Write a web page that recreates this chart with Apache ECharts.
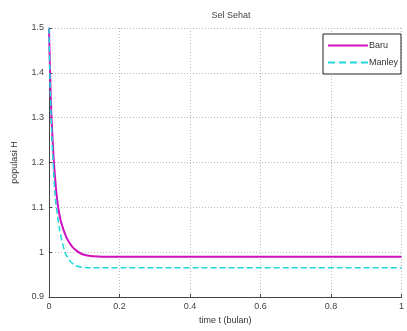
<!DOCTYPE html>
<html>
<head>
<meta charset="utf-8">
<script src="https://cdn.jsdelivr.net/npm/echarts@6/dist/echarts.min.js"></script>
<style>
  html, body { margin: 0; padding: 0; background: #fff; }
  #chart { width: 407px; height: 331px; }
</style>
</head>
<body>
<div id="chart"></div>
<script>
// values
var baruT = [0, 0.003, 0.007, 0.014, 0.02, 0.026, 0.035, 0.05, 0.065, 0.077, 0.09, 0.105, 0.125, 0.15, 1.0];
var baruH = [1.5, 1.4, 1.3, 1.2, 1.14, 1.1, 1.065, 1.032, 1.013, 1.004, 0.997, 0.993, 0.991, 0.99, 0.99];
var manleyT = [0, 0.003, 0.007, 0.013, 0.017, 0.021, 0.03, 0.045, 0.06, 0.075, 0.095, 0.12, 1.0];
var manleyH = [1.5, 1.38, 1.28, 1.18, 1.13, 1.1, 1.05, 1.0, 0.98, 0.97, 0.966, 0.965, 0.965];

function pairs(t, h) {
    var out = [];
    for (var i = 0; i < t.length; i++) out.push([t[i], h[i]]);
    return out;
}

var chart = echarts.init(document.getElementById('chart'));
var font = 'Liberation Sans';
var solidIcon = 'path://M0,0h40v2h-40z';
var dashIcon = 'path://M0,0h7v2h-7z M11,0h7v2h-7z M22,0h7v2h-7z M33,0h7v2h-7z';
var option = {
    animation: false,
    title: {
        text: 'Sel Sehat',
        left: 226, top: 6, textAlign: 'center',
        textStyle: { fontSize: 9, fontWeight: 'normal', color: '#444', fontFamily: font }
    },
    legend: {
        orient: 'vertical',
        right: 6, top: 34,
        backgroundColor: '#fff',
        borderColor: '#222', borderWidth: 1, borderRadius: 0,
        padding: [7, 3, 7, 5],
        itemGap: 8, itemWidth: 40, itemHeight: 2,
        textStyle: { fontSize: 9, color: '#333', fontFamily: font, padding: [0, 0, 0, -4] },
        data: [
            { name: 'Baru', icon: solidIcon },
            { name: 'Manley', icon: dashIcon }
        ]
    },
    grid: { left: 49, right: 0, top: 28, bottom: 34, containLabel: false },
    xAxis: {
        type: 'value', min: 0, max: 1, interval: 0.2,
        name: 'time t (bulan)', nameLocation: 'middle', nameGap: 17,
        nameTextStyle: { fontSize: 9, color: '#333', fontFamily: font },
        axisLine: { lineStyle: { color: '#444' } },
        axisTick: { inside: true, length: 3, lineStyle: { color: '#444' } },
        axisLabel: { fontSize: 9, color: '#444', fontFamily: font, margin: 5 },
        splitLine: { show: true, lineStyle: { color: '#bbb', type: [1, 2] } }
    },
    yAxis: {
        type: 'value', min: 0.9, max: 1.5, interval: 0.1,
        name: 'populasi H', nameLocation: 'middle', nameGap: 30,
        nameTextStyle: { fontSize: 9, color: '#333', fontFamily: font },
        axisLine: { show: true, lineStyle: { color: '#444' } },
        axisTick: { show: true, inside: true, length: 3, lineStyle: { color: '#444' } },
        axisLabel: { fontSize: 9, color: '#444', fontFamily: font, margin: 5 },
        splitLine: { show: true, lineStyle: { color: '#bbb', type: [1, 2] } }
    },
    series: [
        {
            name: 'Baru', type: 'line', symbol: 'none', smooth: 0.2,
            data: pairs(baruT, baruH),
            itemStyle: { color: '#d010c0' },
            lineStyle: { color: '#d010c0', width: 2 }
        },
        {
            name: 'Manley', type: 'line', symbol: 'none', smooth: 0.2,
            data: pairs(manleyT, manleyH),
            itemStyle: { color: '#20d8d8' },
            lineStyle: { color: '#20d8d8', width: 1.5, type: [6, 3] }
        }
    ]
};
chart.setOption(option);
</script>
</body>
</html>
